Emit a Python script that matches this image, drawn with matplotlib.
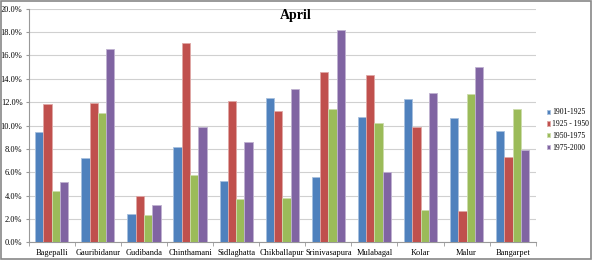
import numpy as np
import matplotlib
matplotlib.use("Agg")
import matplotlib.pyplot as plt
from matplotlib.patches import Rectangle
from matplotlib.ticker import PercentFormatter

places = ["Bagepalli", "Gauribidanur", "Gudibanda", "Chinthamani", "Sidlaghatta",
          "Chikballapur", "Srinivasapura", "Mulabagal", "Kolar", "Malur", "Bangarpet"]
s1901 = [9.47, 7.25, 2.44, 8.16, 5.25, 12.38, 5.62, 10.73, 12.30, 10.61, 9.50]
s1925 = [11.81, 11.95, 3.99, 17.09, 12.07, 11.21, 14.58, 14.32, 9.84, 2.71, 7.28]
s1950 = [4.39, 11.07, 2.34, 5.73, 3.68, 3.79, 11.44, 10.21, 2.74, 12.72, 11.41]
s1975 = [5.14, 16.52, 3.20, 9.87, 8.62, 13.12, 18.15, 5.99, 12.81, 15.00, 7.87]
labels = ["1901-1925", "1925 - 1950", "1950-1975", "1975-2000"]

colors = ["#4F81BD", "#C0504D", "#9BBB59", "#8064A2"]
edges = ["#A7C0DE", "#DFA8A6", "#CDDDAC", "#BFB1D0"]

plt.rcParams["font.family"] = ["Liberation Serif", "DejaVu Serif"]

fig = plt.figure(figsize=(5.92, 2.6), dpi=100)
ax = fig.add_axes([0.0485, 0.068, 0.8565, 0.8985])

x = np.arange(len(places))
w = 0.18
series = [s1901, s1925, s1950, s1975]
for i, vals in enumerate(series):
    ax.bar(x + (i - 1.5) * w, vals, w, color=colors[i], edgecolor=edges[i],
           linewidth=0.6, label=labels[i], zorder=3)

ax.set_xlim(-0.5, len(places) - 0.5)
ax.set_ylim(0, 20)
ax.set_yticks(np.arange(0, 20.1, 2))
ax.yaxis.set_major_formatter(PercentFormatter(decimals=1))
ax.grid(axis="y", color="#D0D0D0", linewidth=0.8, zorder=0)

ax.set_xticks(x)
ax.set_xticklabels(places)
ax.set_xticks(np.arange(-0.5, len(places), 1), minor=True)
ax.tick_params(axis="x", which="major", length=0, labelsize=6, pad=5)
ax.tick_params(axis="x", which="minor", length=3, color="#999999")
ax.tick_params(axis="y", length=2.5, color="#999999", labelsize=6, pad=2)

for side in ["top", "right"]:
    ax.spines[side].set_visible(False)
for side in ["left", "bottom"]:
    ax.spines[side].set_color("#999999")
    ax.spines[side].set_linewidth(0.8)

fig.text(0.5, 0.94, "April", ha="center", va="center", fontsize=10, fontweight="bold")

ax.legend(loc="upper left", bbox_to_anchor=(0.918, 0.595), bbox_transform=fig.transFigure,
          frameon=False, fontsize=5.5, handlelength=0.45, handleheight=0.45,
          handletextpad=0.3, labelspacing=0.5, borderaxespad=0)

fig.patches.append(Rectangle((0.001, 0.002), 0.997, 0.995, transform=fig.transFigure,
                             fill=False, edgecolor="#888888", linewidth=1.2))

fig.savefig("out.png", dpi=100)
